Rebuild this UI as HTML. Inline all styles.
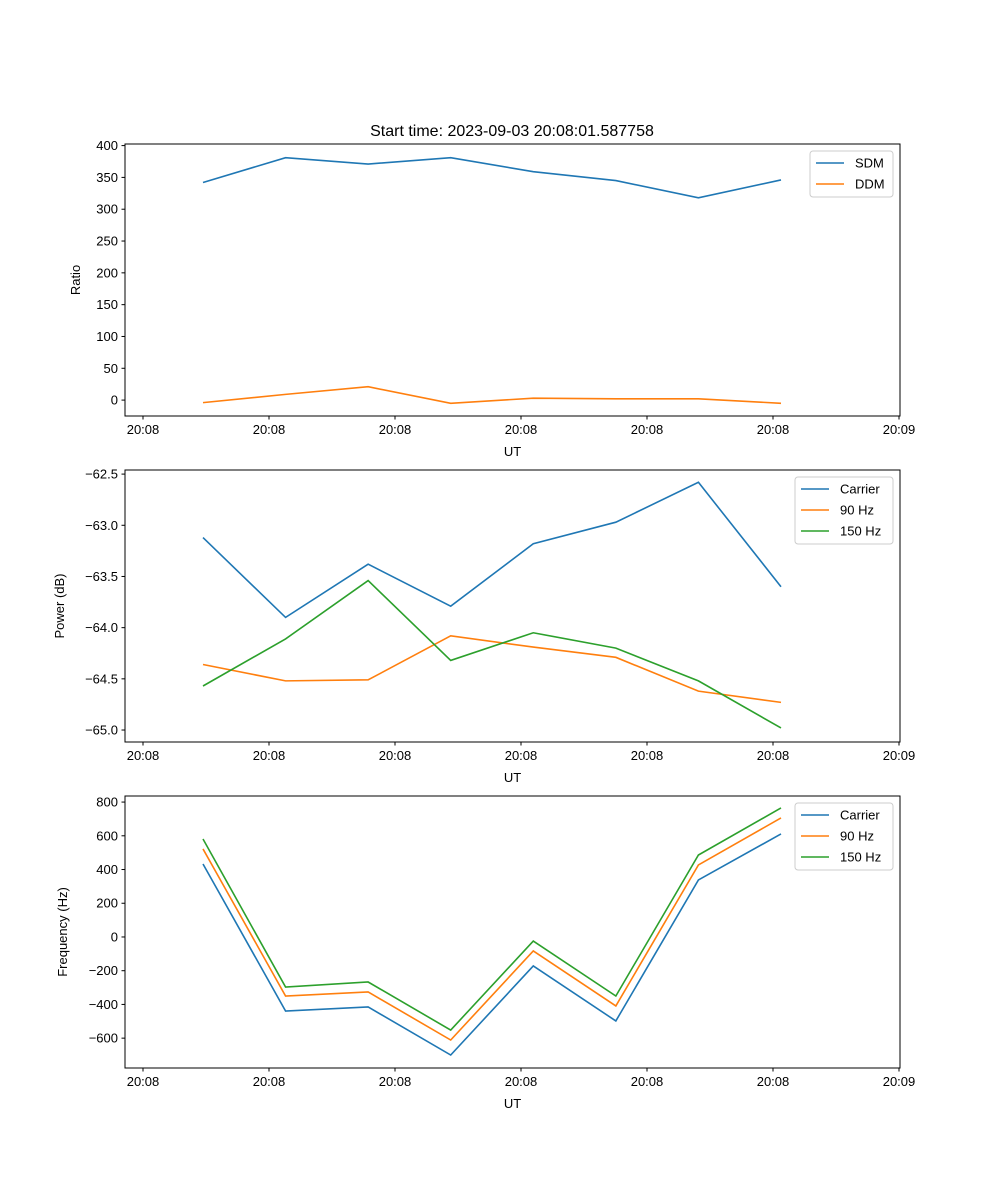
<!DOCTYPE html>
<html><head><meta charset="utf-8"><style>
body{margin:0;background:#fff}
svg{display:block;font-family:"Liberation Sans","DejaVu Sans",sans-serif}
</style></head><body>
<svg id="chart" width="1000" height="1200" xmlns="http://www.w3.org/2000/svg">
<rect width="1000" height="1200" fill="#fff"/>
<text x="512" y="136" font-size="16" text-anchor="middle">Start time: 2023-09-03 20:08:01.587758</text>
</svg>
<script>
const xTickLabels = ["20:08","20:08","20:08","20:08","20:08","20:08","20:09"];
const sdm = [342, 381, 371, 381, 359, 345, 318, 346];
const ddm = [-4, 9, 21, -5, 3, 2, 2, -5];
const pwrCarrier = [-63.12, -63.90, -63.38, -63.79, -63.18, -62.97, -62.58, -63.60];
const pwr90 = [-64.36, -64.52, -64.51, -64.08, -64.19, -64.29, -64.62, -64.73];
const pwr150 = [-64.57, -64.11, -63.54, -64.32, -64.05, -64.20, -64.52, -64.98];
const frqCarrier = [433, -439, -415, -700, -172, -498, 338, 611];
const frq90 = [522, -350, -326, -611, -83, -409, 427, 706];
const frq150 = [581, -297, -267, -552, -24, -350, 486, 765];
const ratioTicks = [0,50,100,150,200,250,300,350,400];
const powerTicks = [-65.0,-64.5,-64.0,-63.5,-63.0,-62.5];
const freqTicks = [-600,-400,-200,0,200,400,600,800];

const NS="http://www.w3.org/2000/svg";
const svg=document.getElementById('chart');
const C={blue:'#1f77b4',orange:'#ff7f0e',green:'#2ca02c'};
function mk(tag,attrs,parent){const e=document.createElementNS(NS,tag);for(const k in attrs)e.setAttribute(k,attrs[k]);(parent||svg).appendChild(e);return e;}
const L=125,R=900;
const xScale=i=>203+i*82.57;
const xTickIdx=[0,1,2,3,4,5,6].map(k=>(143+126*k-203)/82.57);

function panel(name,top,bottom,ymin,ymax,ticks,fmt,ylabel,series,legend){
  const g=mk('g',{});
  
  
  const y=v=>bottom-(v-ymin)/(ymax-ymin)*(bottom-top);
  series.forEach(s=>{
    const p=mk('polyline',{points:s.data.map((v,i)=>xScale(i)+','+y(v)).join(' '),fill:'none',stroke:s.color,'stroke-width':1.6},g);
    
    
  });
  const fr=mk('rect',{x:L,y:top,width:R-L,height:bottom-top,fill:'none',stroke:'#000','stroke-width':1},g);
  
  
  ticks.forEach(t=>{
    const yy=y(t);
    mk('line',{x1:L-3.5,x2:L,y1:yy,y2:yy,stroke:'#000'},g);
    const tx=mk('text',{x:L-7,y:yy+4.5,'font-size':13,'text-anchor':'end'},g);
    tx.textContent=fmt(t);
    
    
  });
  xTickIdx.forEach((ti,k)=>{
    const xx=xScale(ti);
    mk('line',{x1:xx,x2:xx,y1:bottom,y2:bottom+3.5,stroke:'#000'},g);
    const tx=mk('text',{x:xx,y:bottom+18,'font-size':13,'text-anchor':'middle'},g);
    tx.textContent=xTickLabels[k];
    
    
  });
  const xl=mk('text',{x:(L+R)/2,y:bottom+40,'font-size':13,'text-anchor':'middle'},g);
  xl.textContent='UT';
  
  
  const yl=mk('text',{x:0,y:0,'font-size':13,'text-anchor':'middle',transform:`translate(${legend.ylx},${(top+bottom)/2}) rotate(-90)`},g);
  yl.textContent=ylabel;
  
  
  const lg=mk('g',{},g);
  
  
  mk('rect',{x:legend.x,y:top+7,width:R-7-legend.x,height:series.length*21+4,rx:3,fill:'#fff',stroke:'#ccc'},lg);
  series.forEach((s,i)=>{
    const ly=top+7+12+i*21;
    mk('line',{x1:legend.x+6,x2:legend.x+34,y1:ly,y2:ly,stroke:s.color,'stroke-width':1.6},lg);
    const t=mk('text',{x:legend.x+45,y:ly+4.5,'font-size':13},lg);
    t.textContent=s.label;
    
    
  });
}
panel('ratio-panel',144,416,-25,402.5,ratioTicks,v=>String(v),'Ratio',
  [{key:'sdm',label:'SDM',data:sdm,color:C.blue},{key:'ddm',label:'DDM',data:ddm,color:C.orange}],{x:810,ylx:80});
panel('power-panel',470,742,-65.117,-62.46,powerTicks,v=>v.toFixed(1).replace('-','\u2212'),'Power (dB)',
  [{key:'carrier',label:'Carrier',data:pwrCarrier,color:C.blue},{key:'90hz',label:'90 Hz',data:pwr90,color:C.orange},{key:'150hz',label:'150 Hz',data:pwr150,color:C.green}],{x:795,ylx:64});
panel('frequency-panel',796,1068,-777,836,freqTicks,v=>String(v).replace('-','\u2212'),'Frequency (Hz)',
  [{key:'carrier',label:'Carrier',data:frqCarrier,color:C.blue},{key:'90hz',label:'90 Hz',data:frq90,color:C.orange},{key:'150hz',label:'150 Hz',data:frq150,color:C.green}],{x:795,ylx:67});
</script>
</body></html>
